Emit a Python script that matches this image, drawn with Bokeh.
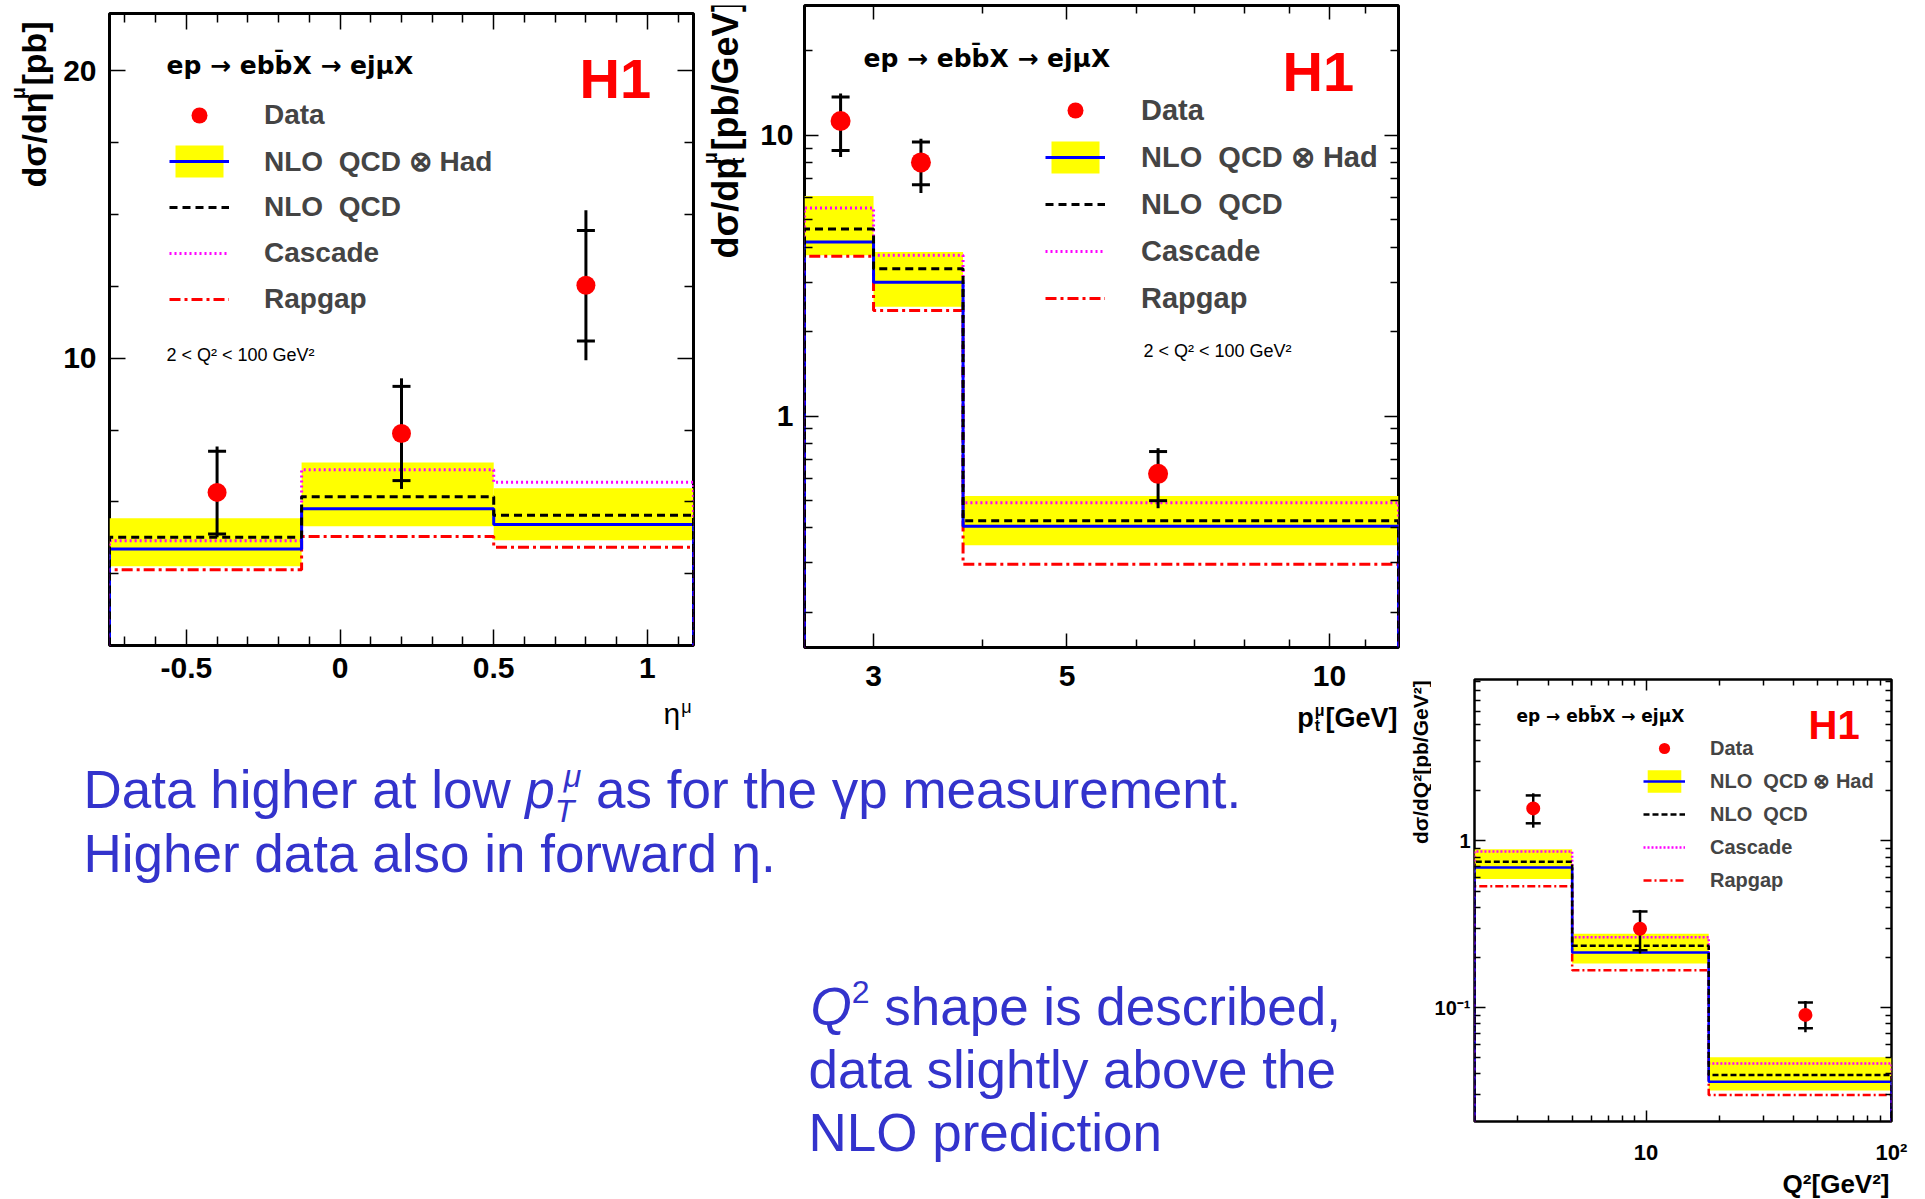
import glob
import math
import os

from bokeh.plotting import figure
from bokeh.models import (FixedTicker, LinearAxis, LogAxis, Label, Legend, LegendItem,
                          CustomJSTickFormatter, Range1d, Spacer)
from bokeh.layouts import row, column
from bokeh.embed import file_html
from bokeh.resources import INLINE

# ------------------------------------------------------------------ data
legend_labels = ["Data", "NLO  QCD \u2297 Had", "NLO  QCD", "Cascade", "Rapgap"]
heading = "ep \u2192 ebb\u0304X \u2192 ej\u03bcX"
q2_range_text = "2 < Q\u00b2 < 100 GeV\u00b2"

# panel 1 : d sigma / d eta
eta_edges = [-0.75, -0.125, 0.5, 1.15]
eta_x = [-0.4, 0.2, 0.8]
eta_data = [5.33, 7.38, 12.54]
eta_stat_lo = [3.88, 5.74, 10.6]
eta_stat_hi = [6.76, 9.02, 14.45]
eta_tot_lo = [3.77, 5.45, 9.93]
eta_tot_hi = [6.93, 9.30, 15.15]
eta_had = [3.36, 4.76, 4.21]
eta_had_lo = [2.76, 4.15, 3.66]
eta_had_hi = [4.43, 6.37, 5.47]
eta_nlo = [3.77, 5.18, 4.53]
eta_cascade = [3.65, 6.12, 5.68]
eta_rapgap = [2.64, 3.79, 3.42]
eta_xticks = [-0.5, 0, 0.5, 1]
eta_xtick_labels = ["-0.5", "0", "0.5", "1"]
eta_xminor = [-0.7, -0.6, -0.4, -0.3, -0.2, -0.1, 0.1, 0.2, 0.3, 0.4,
              0.6, 0.7, 0.8, 0.9, 1.1]
eta_yticks = [10, 20]
eta_ytick_labels = ["10", "20"]
eta_yminor = [2.5, 5, 7.5, 12.5, 15, 17.5]

# panel 2 : d sigma / d pt
pt_edges = [2.5, 3.0, 3.8, 12.0]
pt_x = [2.75, 3.4, 6.36]
pt_data = [11.25, 8.01, 0.623]
pt_stat_lo = [8.84, 6.67, 0.50]
pt_stat_hi = [13.7, 9.46, 0.748]
pt_tot_lo = [8.37, 6.23, 0.47]
pt_tot_hi = [14.1, 9.73, 0.769]
pt_had = [4.17, 3.00, 0.405]
pt_had_lo = [3.74, 2.45, 0.347]
pt_had_hi = [6.08, 3.84, 0.520]
pt_nlo = [4.64, 3.35, 0.424]
pt_cascade = [5.51, 3.74, 0.492]
pt_rapgap = [3.71, 2.38, 0.297]
pt_xticks = [3, 5, 10]
pt_xtick_labels = ["3", "5", "10"]
pt_xminor = [4, 6, 7, 8, 9, 11]
pt_yticks = [1, 10]
pt_ytick_labels = ["1", "10"]
pt_yminor = [0.2, 0.3, 0.4, 0.5, 0.6, 0.7, 0.8, 0.9, 2, 3, 4, 5, 6, 7, 8, 9, 20]

# panel 3 : d sigma / d Q2
q2_edges = [2, 5, 18, 100]
q2_x = [3.47, 9.45, 44.6]
q2_data = [1.567, 0.297, 0.0903]
q2_stat_lo = [1.275, 0.2207, 0.0752]
q2_stat_hi = [1.874, 0.377, 0.107]
q2_tot_lo = [1.20, 0.211, 0.071]
q2_tot_hi = [1.93, 0.385, 0.1095]
q2_had = [0.693, 0.2138, 0.0358]
q2_had_lo = [0.591, 0.1837, 0.0318]
q2_had_hi = [0.892, 0.2775, 0.0503]
q2_nlo = [0.749, 0.2344, 0.0393]
q2_cascade = [0.864, 0.2638, 0.0461]
q2_rapgap = [0.534, 0.1676, 0.0299]
q2_xticks = [10, 100]
q2_xtick_labels = ["10", "10\u00b2"]
q2_xminor = [3, 4, 5, 6, 7, 8, 9, 20, 30, 40, 50, 60, 70, 80, 90]
q2_yticks = [0.1, 1]
q2_ytick_labels = ["10\u207b\u00b9", "1"]
q2_yminor = [0.03, 0.04, 0.05, 0.06, 0.07, 0.08, 0.09,
             0.2, 0.3, 0.4, 0.5, 0.6, 0.7, 0.8, 0.9, 2, 3, 4, 5, 6, 7, 8, 9]

# ------------------------------------------------------------------ helpers
FONT = "Liberation Sans"
HEAD_FONT = "DejaVu Sans"
TXT_BLUE = "#3333cc"
HALF_PI = math.pi / 2
MID = 0.355  # baseline lies this many em below the "middle" anchor

_font_cache = {}


def _font_file(style):
    suffix = {"normal": "Regular", "bold": "Bold", "italic": "Italic",
              "bold italic": "BoldItalic"}[style]
    name = "LiberationSans-%s.ttf" % suffix
    for base in ["/usr/share/fonts", "/usr/local/share/fonts",
                 os.path.expanduser("~/.fonts"), os.path.expanduser("~/.local/share/fonts")]:
        hits = glob.glob(os.path.join(base, "**", name), recursive=True)
        if hits:
            return hits[0]
    return None


def tw(s, size, style="normal"):
    """Width in px of a text run in Liberation Sans."""
    key = (style, size)
    try:
        if key not in _font_cache:
            from PIL import ImageFont
            path = _font_file(style)
            _font_cache[key] = ImageFont.truetype(path, size) if path else None
        f = _font_cache[key]
        if f is not None:
            return f.getlength(s)
    except Exception:
        pass
    return 0.58 * size * len(s)


def steps(edges, vals, floor):
    xs, ys = [edges[0]], [floor]
    for i, v in enumerate(vals):
        xs += [edges[i], edges[i + 1]]
        ys += [v, v]
    xs.append(edges[-1])
    ys.append(floor)
    return xs, ys


def fmt(tv, tl):
    return CustomJSTickFormatter(args=dict(tv=list(tv), tl=list(tl)), code="""
        for (let i = 0; i < tv.length; i++) {
            if (Math.abs(tv[i] - tick) <= 1e-6 * Math.max(1, Math.abs(tick))) return tl[i];
        }
        return "";
    """)


def blank():
    return CustomJSTickFormatter(code="return '';")


def make_panel(w, h, canvas, frame, xr, yr, xlog, ylog, outline_w):
    cx, cy = canvas
    L, R, T, B = frame
    p = figure(width=w, height=h, x_range=Range1d(*xr), y_range=Range1d(*yr),
               x_axis_type="log" if xlog else "linear",
               y_axis_type="log" if ylog else "linear",
               toolbar_location=None, output_backend="svg", title=None,
               min_border_left=L - cx, min_border_right=cx + w - R,
               min_border_top=T - cy, min_border_bottom=cy + h - B)
    p.grid.visible = False
    p.outline_line_color = "black"
    p.outline_line_width = outline_w
    p.background_fill_color = "white"
    p.border_fill_color = "white"

    def tr(t, r, log):
        if log:
            a, b = math.log10(r[0]), math.log10(r[1])
            return 10 ** (a + t * (b - a))
        return r[0] + t * (r[1] - r[0])

    def conv(px, py):
        return tr((px - L) / (R - L), xr, xlog), tr((B - py) / (B - T), yr, ylog)

    return p, conv


def text_fig(x0, y0, w, h):
    """Blank figure whose data coordinates are the page pixels it covers."""
    f = figure(width=w, height=h, x_range=Range1d(x0, x0 + w), y_range=Range1d(y0 + h, y0),
               toolbar_location=None, output_backend="svg", title=None,
               x_axis_location=None, y_axis_location=None, min_border=0)
    f.grid.visible = False
    f.outline_line_color = None
    f.background_fill_color = "white"
    f.border_fill_color = "white"

    def conv(px, py):
        return px, py

    return f, conv


def conf(ax, ticks, minor, formatter, fs, tin, tmin, lw, standoff):
    ax.ticker = FixedTicker(ticks=ticks, minor_ticks=minor)
    ax.formatter = formatter
    ax.axis_line_color = None
    ax.major_tick_in = tin
    ax.major_tick_out = 0
    ax.minor_tick_in = tmin
    ax.minor_tick_out = 0
    ax.major_tick_line_width = lw
    ax.minor_tick_line_width = lw
    ax.major_tick_line_color = "black"
    ax.minor_tick_line_color = "black"
    ax.major_label_text_font = FONT
    ax.major_label_text_font_style = "bold"
    ax.major_label_text_font_size = fs
    ax.major_label_text_color = "black"
    ax.major_label_standoff = standoff


def axes(p, xlog, ylog, xt, xtl, xm, yt, ytl, ym, xfs, yfs, tin, tmin, lw, xstand, ystand):
    conf(p.below[0], xt, xm, fmt(xt, xtl), xfs, tin, tmin, lw, xstand)
    conf(p.left[0], yt, ym, fmt(yt, ytl), yfs, tin, tmin, lw, ystand)
    top = LogAxis() if xlog else LinearAxis()
    conf(top, xt, xm, blank(), "0px", tin, tmin, lw, 0)
    p.add_layout(top, "above")
    right = LogAxis() if ylog else LinearAxis()
    conf(right, yt, ym, blank(), "0px", tin, tmin, lw, 0)
    p.add_layout(right, "right")


def draw(p, edges, xc, data, slo, shi, tlo, thi, had, hlo, hhi, nlo, cas, rap,
         floor, lw, dash, dot, dashdot, ws, ms):
    band = p.quad(left=edges[:-1], right=edges[1:], bottom=hlo, top=hhi,
                  fill_color="#ffff00", line_color=None)
    x, y = steps(edges, cas, floor)
    r_cas = p.line(x=x, y=y, line_color="#ff00ff", line_width=lw, line_dash=dot)
    x, y = steps(edges, rap, floor)
    r_rap = p.line(x=x, y=y, line_color="#ff0000", line_width=lw, line_dash=dashdot)
    x, y = steps(edges, had, floor)
    r_had = p.line(x=x, y=y, line_color="#0000ff", line_width=lw)
    x, y = steps(edges, nlo, floor)
    r_nlo = p.line(x=x, y=y, line_color="black", line_width=lw, line_dash=dash)
    p.segment(x0=xc, y0=tlo, x1=xc, y1=thi, line_color="black", line_width=lw)
    p.scatter(x=list(xc) + list(xc), y=list(slo) + list(shi), marker="dash",
              size=ws, line_color="black", line_width=lw)
    r_dat = p.scatter(x=xc, y=data, marker="circle", size=ms,
                      fill_color="#ff0000", line_color=None)
    rends = [[r_dat], [band, r_had], [r_nlo], [r_cas], [r_rap]]
    return [LegendItem(label=lab, renderers=r) for lab, r in zip(legend_labels, rends)]


def add_legend(p, items, vx, vy, gw, gh, spacing, standoff, fs):
    lg = Legend(items=items, location=(vx, vy), glyph_width=gw, glyph_height=gh,
                spacing=spacing, padding=0, margin=0, label_standoff=standoff,
                label_text_font=FONT, label_text_font_style="bold",
                label_text_font_size=fs, border_line_color=None,
                background_fill_alpha=0)
    p.add_layout(lg)


def text(p, conv, px, py, s, size, color="black", style="bold", align="left",
         angle=0.0, font=FONT):
    x, y = conv(px, py)
    p.add_layout(Label(x=x, y=y, text=s, text_font=font, text_font_size=f"{size}px",
                       text_font_style=style, text_color=color, text_align=align,
                       text_baseline="middle", angle=angle))


def _group_width(g):
    return max(dx + tw(s, size, style) for (s, size, style, shift, dx) in g)


def _lead(s, size, style):
    return tw(s[:len(s) - len(s.lstrip())], size, style)


def run_h(fig, conv, x, base, groups, color="black", right=False):
    """Horizontal run of text groups; a piece is (text, size, style, baseline shift, dx).
    Positive shift moves the piece up (superscript)."""
    widths = [_group_width(g) for g in groups]
    if right:
        x -= sum(widths)
    for g, w in zip(groups, widths):
        for (s, size, style, shift, dx) in g:
            text(fig, conv, x + dx + _lead(s, size, style), base - shift - MID * size,
                 s.strip(), size, color=color, style=style)
        x += w


def run_v(fig, conv, top, base, groups):
    """Text rotated by 90 deg, reading upwards, ending at page y = top.
    base is the page x of the baseline; positive shift = superscript (to the left)."""
    widths = [_group_width(g) for g in groups]
    y = top + sum(widths)
    for g, w in zip(groups, widths):
        for (s, size, style, shift, dx) in g:
            text(fig, conv, base - shift - MID * size, y - dx - _lead(s, size, style),
                 s.strip(), size, style=style, angle=HALF_PI)
        y -= w


# ------------------------------------------------------------------ panel 1
p1_range_x = (-0.75, 1.15)
p1_range_y = (0, 22)
p1, c1 = make_panel(640, 695, (60, 0), (109, 693, 13, 645), p1_range_x, p1_range_y,
                    False, False, 3)
axes(p1, False, False, eta_xticks, eta_xtick_labels, eta_xminor,
     eta_yticks, eta_ytick_labels, eta_yminor, "30px", "30px", 16, 9, 1.5, 12, 13)
items1 = draw(p1, eta_edges, eta_x, eta_data, eta_stat_lo, eta_stat_hi, eta_tot_lo,
              eta_tot_hi, eta_had, eta_had_lo, eta_had_hi, eta_nlo, eta_cascade,
              eta_rapgap, p1_range_y[0], 3, "8 5", "2 3", "11 4 3 4", 18, 19)
add_legend(p1, items1, 60, 326, 60, 40, 6, 35, "28px")
text(p1, c1, 166, 65, heading, 25, font=HEAD_FONT)
text(p1, c1, 579, 78, "H1", 56, color="#ff0000")
text(p1, c1, 166, 354, q2_range_text, 18, style="normal")

t1y, ct1y = text_fig(0, 0, 60, 695)
run_v(t1y, ct1y, 15, 46, [[("d\u03c3/d\u03b7", 34, "bold", 0, 0)],
                          [("\u03bc", 20, "bold", 21, 2)],
                          [("[pb]", 34, "bold", 0, 3)]])

t1x, ct1x = text_fig(0, 695, 700, 40)
run_h(t1x, ct1x, 691, 724, [[("\u03b7", 30, "normal", 0, 0)],
                            [("\u03bc", 18, "normal", 11, 1)]], right=True)

# ------------------------------------------------------------------ panel 2
p2_range_x = (2.5, 12.0)
p2_range_y = (0.15, 29.0)
p2, c2 = make_panel(656, 700, (752, 0), (804, 1398, 5, 647), p2_range_x, p2_range_y,
                    True, True, 3)
axes(p2, True, True, pt_xticks, pt_xtick_labels, pt_xminor,
     pt_yticks, pt_ytick_labels, pt_yminor, "30px", "30px", 14, 8, 1.5, 18, 11)
items2 = draw(p2, pt_edges, pt_x, pt_data, pt_stat_lo, pt_stat_hi, pt_tot_lo,
              pt_tot_hi, pt_had, pt_had_lo, pt_had_hi, pt_nlo, pt_cascade,
              pt_rapgap, p2_range_y[0], 3, "8 5", "2 3", "11 4 3 4", 18, 20)
add_legend(p2, items2, 241, 329, 60, 40, 7, 36, "29px")
text(p2, c2, 863, 58, heading, 25, font=HEAD_FONT)
text(p2, c2, 1282, 71, "H1", 56, color="#ff0000")
text(p2, c2, 1143, 350, q2_range_text, 18, style="normal")

t2y, ct2y = text_fig(700, 0, 52, 700)
run_v(t2y, ct2y, 8, 738, [[("d\u03c3/dp", 36, "bold", 0, 0)],
                          [("t", 20, "bold", -6, 2), ("\u03bc", 20, "bold", 21, 2)],
                          [("[pb/GeV]", 36, "bold", 0, 3)]])

t2x, ct2x = text_fig(700, 700, 708, 35)
run_h(t2x, ct2x, 1397, 727, [[("p", 27, "bold", 0, 0)],
                             [("t", 16, "bold", -4, 1), ("\u03bc", 16, "bold", 11, 1)],
                             [("[GeV]", 27, "bold", 0, 1)]], right=True)

# ------------------------------------------------------------------ panel 3
p3_range_x = (2.0, 100.0)
p3_range_y = (0.0207, 9.3)
p3, c3 = make_panel(494, 497, (1431, 670), (1474, 1891, 679, 1124), p3_range_x,
                    p3_range_y, True, True, 2.5)
axes(p3, True, True, q2_xticks, q2_xtick_labels, q2_xminor,
     q2_yticks, q2_ytick_labels, q2_yminor, "22px", "20px", 11, 6, 1.5, 18, 4)
items3 = draw(p3, q2_edges, q2_x, q2_data, q2_stat_lo, q2_stat_hi, q2_tot_lo,
              q2_tot_hi, q2_had, q2_had_lo, q2_had_hi, q2_nlo, q2_cascade,
              q2_rapgap, p3_range_y[0], 2.5, "6 3", "2 2", "8 3 2 3", 15, 14)
add_legend(p3, items3, 169, 227, 42, 28, 5, 25, "20px")
text(p3, c3, 1516, 716, heading, 17, font=HEAD_FONT)
text(p3, c3, 1808, 725, "H1", 40, color="#ff0000")

t3y, ct3y = text_fig(1408, 670, 23, 497)
text(t3y, ct3y, 1420, 855, "d\u03c3/dQ\u00b2[pb/GeV\u00b2]", 21, angle=HALF_PI)

t3x, ct3x = text_fig(1408, 1167, 517, 32)
text(t3x, ct3x, 1889, 1183, "Q\u00b2[GeV\u00b2]", 26, align="right")

# ------------------------------------------------------------------ slide text
ptx, cpt = text_fig(0, 735, 1408, 464)

run_h(ptx, cpt, 83, 808, [[("Data higher at low ", 53, "normal", 0, 0)],
                          [("p", 53, "italic", 0, 0)],
                          [("T", 32, "italic", -14, 0), ("\u03bc", 32, "italic", 21, 9)],
                          [(" as for the \u03b3p measurement.", 53, "normal", 0, 0)]],
      color=TXT_BLUE)
run_h(ptx, cpt, 83, 872, [[("Higher data also in forward \u03b7.", 53, "normal", 0, 0)]],
      color=TXT_BLUE)
run_h(ptx, cpt, 810, 1025, [[("Q", 53, "italic", 0, 0)],
                            [("2", 32, "normal", 22, 0)],
                            [(" shape is described,", 53, "normal", 0, 0)]],
      color=TXT_BLUE)
run_h(ptx, cpt, 808, 1088, [[("data slightly above the", 53, "normal", 0, 0)]], color=TXT_BLUE)
run_h(ptx, cpt, 808, 1151, [[("NLO prediction", 53, "normal", 0, 0)]], color=TXT_BLUE)

# ------------------------------------------------------------------ layout
colA = column(row(t1y, p1), t1x)
colB = column(row(t2y, p2), t2x)
left = column(row(colA, colB), ptx)
right = column(Spacer(width=517, height=670), row(t3y, p3), t3x)
layout = row(left, right)

with open("out.html", "w", encoding="utf-8") as f:
    f.write(file_html(layout, INLINE, "H1 b-production"))
